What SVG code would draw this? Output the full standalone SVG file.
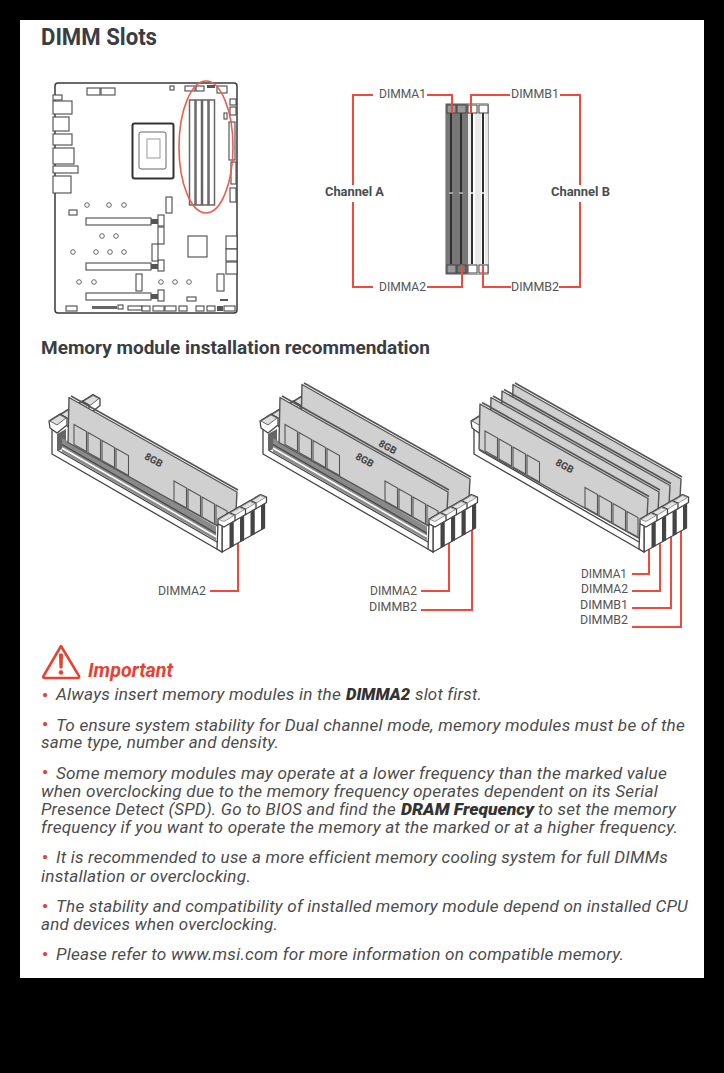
<svg xmlns="http://www.w3.org/2000/svg" width="724" height="1073" viewBox="0 0 724 1073">
<style>
text{font-family:"Roboto","Liberation Sans",sans-serif}
.h{font-weight:700;fill:#3a3d42}
.l{font-size:12.5px;fill:#555}
.ch{font-size:12.5px;font-weight:700;fill:#4a4d52}
.b{font-size:16px;font-style:italic;fill:#4c4c4c;letter-spacing:.2px}
.bb{font-size:16px;font-style:italic;font-weight:900;fill:#333}
.dot{font-size:17px;fill:#e8412f;text-anchor:middle;font-weight:700}
.logo{font-size:10px;font-weight:700;fill:#444;text-anchor:middle}
.c{fill:#fff;stroke:#4a4a4a;stroke-width:1.1}
.s{fill:#fff;stroke:#666;stroke-width:1}
.r{fill:none;stroke:#ee4b3e;stroke-width:2}
.ps{fill:#fff;stroke:#444;stroke-width:1.3;stroke-linejoin:round}
.pt{fill:#d0d0d0;stroke:#555;stroke-width:1.4;stroke-linejoin:round}
.ct{fill:#d0d0d0;stroke:#555;stroke-width:1.1}
</style>
<defs>
<g id="base">
<polygon class="ps" points="52,428 85,409 222,526 222,552 52,454"/>
<polygon points="57,434 66,429 66,448 57,451" fill="#666"/>
<line x1="58" y1="450.5" x2="217" y2="542" stroke="#444" stroke-width="1.3"/>
</g>
<g id="channel">
<polygon points="62,452 216,540.5 216,526.5 62,438" fill="#8a8a8a"/>
<line x1="62" y1="448" x2="216" y2="536.7" stroke="#fff" stroke-width="1.6"/>
<line x1="62" y1="444.5" x2="216" y2="533.2" stroke="#444" stroke-width="1.2"/>
</g>
<g id="lclip">
<polygon class="ps" points="49,421 60,414 67,418 67,425 57,433 50,428"/>
<polygon points="50,421 60,415 66,418 57,425" fill="#ddd" stroke="#444" stroke-width=".8"/>
</g>
<g id="rcol">
<polygon class="ps" points="222,552 233,546 233,520 222,526"/>
<polygon points="229.5,548 233,546 233,522 229.5,524" fill="#444"/>
<polygon class="ps" points="218,519 229,512.5 235,515 235,520.5 224,527 218,524"/>
<polygon points="219,519.500 229,513.500 234,515.500 224,521.500" fill="#e4e4e4" stroke="#555" stroke-width=".6"/>
<polygon class="ps" points="218,524 222,526 222,552 217,549"/>
</g>
<g id="plate">
<polygon class="pt" points="58,404 226,498.500 225,518 218,539 57,449"/>
<line x1="60" y1="402.500" x2="227" y2="496.500" stroke="#555" stroke-width="1.600"/>
</g>
<g id="chips">
<polygon class="ct" points="63,431 75.500,438 75.500,458 63,451"/>
<polygon class="ct" points="77,439 89.500,446 89.500,466 77,459"/>
<polygon class="ct" points="91,447 103.500,454 103.500,474 91,467"/>
<polygon class="ct" points="105,455 117.500,462 117.500,482 105,475"/>
<polygon class="ct" points="163,487.500 175.500,494.500 175.500,514.500 163,507.500"/>
<polygon class="ct" points="177,495.500 189.500,502.500 189.500,522.500 177,515.500"/>
<polygon class="ct" points="191,503.500 203.500,510.500 203.500,530.500 191,523.500"/>
<polygon class="ct" points="205,511.500 216,517.500 216,537 205,531"/>
</g>
</defs>

<rect width="724" height="1073" fill="#000"/>
<rect x="20" y="20" width="684" height="958" fill="#fff"/>

<g id="heading-dimm"><text class="h" x="41" y="45" font-size="23" textLength="116" lengthAdjust="spacingAndGlyphs">DIMM Slots</text></g>

<g id="motherboard">
<rect x="55" y="83" width="182" height="230" rx="3" fill="#fff" stroke="#3a3a3a" stroke-width="1.500"/>
<rect class="c" x="87" y="88" width="13" height="7"/><rect class="c" x="101" y="88" width="14" height="7"/>
<rect class="c" x="170" y="86" width="4" height="4"/><rect class="c" x="185" y="86" width="10" height="5"/><rect class="c" x="196" y="86" width="8" height="5"/>
<rect x="207" y="85" width="8" height="3" fill="#555"/><rect class="c" x="217" y="86" width="10" height="7"/>
<rect class="c" x="53" y="95" width="9" height="5"/><rect class="c" x="53" y="101" width="19" height="13"/><rect class="c" x="53" y="117" width="16" height="14"/>
<rect class="c" x="53" y="134" width="19" height="11"/><rect class="c" x="53" y="148" width="21" height="16"/><rect class="c" x="53" y="166" width="25" height="7"/><rect class="c" x="53" y="176" width="18" height="17"/>
<rect class="c" x="230" y="99" width="6" height="6"/><rect class="c" x="230" y="107" width="6" height="8"/><rect class="c" x="224" y="113" width="3" height="6"/>
<rect class="c" x="229" y="122" width="6" height="38"/><rect class="c" x="231" y="162" width="5" height="22"/><rect class="c" x="230" y="188" width="6" height="14"/>
<rect x="132.500" y="123.500" width="41" height="55" rx="2" fill="#fff" stroke="#333" stroke-width="2"/>
<rect x="139" y="132" width="27" height="37" rx="2" fill="#fff" stroke="#666" stroke-width="1"/>
<rect x="147" y="139" width="13" height="19" fill="#fff" stroke="#aaa" stroke-width="1.200"/>
<rect class="s" x="189.500" y="100" width="5.500" height="105" style="stroke-width:1.500"/><rect class="s" x="196" y="100" width="5.500" height="105" style="stroke-width:1.500"/><rect class="s" x="202.500" y="100" width="5.500" height="105" style="stroke-width:1.500"/><rect class="s" x="209" y="100" width="5.500" height="105" style="stroke-width:1.500"/>
<g fill="#fff" stroke="#666" stroke-width="1">
<circle cx="87" cy="205" r="2.300"/><circle cx="109" cy="205" r="2.300"/><circle cx="124" cy="205" r="2.300"/><circle cx="102" cy="236" r="2.300"/><circle cx="116" cy="236" r="2.300"/>
<circle cx="73" cy="252" r="2.300"/><circle cx="96" cy="252" r="2.300"/><circle cx="110" cy="252" r="2.300"/><circle cx="124" cy="252" r="2.300"/>
<circle cx="79" cy="282" r="2.300"/><circle cx="94" cy="282" r="2.300"/><circle cx="161" cy="282" r="2.300"/><circle cx="175" cy="282" r="2.300"/><circle cx="189" cy="282" r="2.300"/>
</g>
<rect class="c" x="69" y="210" width="8" height="5"/><rect class="c" x="166" y="197" width="6" height="16"/>
<rect class="c" x="86" y="218" width="65" height="7"/><rect class="c" x="86" y="263" width="65" height="7"/><rect class="c" x="86" y="293" width="65" height="7"/>
<rect class="c" x="158" y="215" width="6" height="11"/><rect class="c" x="158" y="260" width="6" height="11"/><rect class="c" x="158" y="290" width="6" height="11"/>
<rect x="151" y="219" width="7" height="5" fill="#555"/><rect x="151" y="264" width="7" height="5" fill="#555"/><rect x="151" y="294" width="7" height="5" fill="#555"/>
<rect class="c" x="158" y="227" width="6" height="17"/><rect class="c" x="152" y="244" width="6" height="17"/><rect class="c" x="136" y="274" width="6" height="17"/><rect class="c" x="217" y="274" width="7" height="17"/>
<rect class="c" x="188" y="236" width="19" height="21"/>
<rect class="c" x="226" y="236" width="11" height="13"/><rect class="c" x="226" y="249" width="11" height="12"/><rect class="c" x="226" y="262" width="11" height="12"/>
<rect class="c" x="66" y="306" width="11" height="5"/><rect x="92" y="306" width="25" height="3" fill="#666"/><rect class="c" x="118" y="305" width="5" height="4"/>
<rect class="c" x="128" y="306" width="14" height="4"/><rect class="c" x="142" y="306" width="8" height="5"/><rect class="c" x="153" y="306" width="11" height="5"/><rect class="c" x="165" y="306" width="11" height="5"/>
<rect class="c" x="179" y="306" width="8" height="5"/><rect class="c" x="196" y="306" width="8" height="5"/><rect class="c" x="207" y="306" width="8" height="5"/><rect x="217" y="306" width="6" height="5" fill="#555"/><rect class="c" x="224" y="306" width="11" height="5"/>
<rect class="c" x="187" y="297" width="9" height="4"/><rect x="220" y="299" width="8" height="2" fill="#555"/>
<ellipse cx="206" cy="147" rx="27" ry="66" fill="none" stroke="#e8604f" stroke-width="1.600"/>
</g>

<g id="slots-top">
<rect x="446" y="104" width="42" height="170" fill="#fff" stroke="#555" stroke-width="1"/>
<rect x="446" y="104" width="22" height="170" fill="#777"/>
<rect x="468" y="104" width="20" height="170" fill="#e8e8e8"/>
<rect x="471" y="113" width="4" height="151" fill="#fff"/><rect x="481" y="113" width="4" height="151" fill="#fff"/>
<g stroke="#2f2f2f" stroke-width="2"><line x1="451" y1="113" x2="451" y2="264"/><line x1="461" y1="113" x2="461" y2="264"/><line x1="472" y1="113" x2="472" y2="264"/><line x1="483" y1="113" x2="483" y2="264"/></g>
<g stroke="#bbb" stroke-width="1.500"><line x1="449" y1="193" x2="453" y2="193"/><line x1="459" y1="193" x2="463" y2="193"/></g>
<g stroke="#fff" stroke-width="1.500"><line x1="470" y1="193" x2="474" y2="193"/><line x1="481" y1="193" x2="485" y2="193"/></g>
<rect x="457" y="105" width="9" height="8" fill="#999" stroke="#444"/><rect x="468" y="105" width="9" height="8" fill="#fff" stroke="#444"/><rect x="479" y="105" width="9" height="8" fill="#fff" stroke="#444"/><rect x="447" y="105" width="9" height="8" fill="#999" stroke="#444"/>
<rect x="447" y="265" width="9" height="8" fill="#999" stroke="#444"/><rect x="457" y="265" width="9" height="8" fill="#777" stroke="#444"/><rect x="468" y="265" width="9" height="8" fill="#fff" stroke="#444"/><rect x="479" y="265" width="9" height="8" fill="#fff" stroke="#444"/>
</g>

<g id="connectors">
<path class="r" d="M373 95H353V185M353 202V287H373M427 95H452V113M510 95H471V113M560 95H580V185M580 202V287H559M511 287H483V265M427 287H462V265"/>
<path class="r" d="M238 534V591H210M449 534V591H421M472 520V610H421M649 542V574H632M660 534V591H632M671 530V608H632M681 520V627H632"/>
</g>

<g id="labels-top">
<text class="l" x="379" y="98" textLength="47" lengthAdjust="spacingAndGlyphs">DIMMA1</text>
<text class="l" x="379" y="291" textLength="47" lengthAdjust="spacingAndGlyphs">DIMMA2</text>
<text class="l" x="511" y="98" textLength="48" lengthAdjust="spacingAndGlyphs">DIMMB1</text>
<text class="l" x="511" y="291" textLength="48" lengthAdjust="spacingAndGlyphs">DIMMB2</text>
<text class="ch" x="325" y="196" textLength="59" lengthAdjust="spacingAndGlyphs">Channel A</text>
<text class="ch" x="551" y="196" textLength="59" lengthAdjust="spacingAndGlyphs">Channel B</text>
</g>

<g id="heading-install"><text class="h" x="41" y="354" font-size="18" textLength="389" lengthAdjust="spacingAndGlyphs">Memory module installation recommendation</text></g>

<g id="socket-1">
<use href="#base"/><use href="#channel"/>
<use href="#lclip" transform="translate(33,-19.500)"/><use href="#rcol" transform="translate(31.500,-18)"/>
<use href="#lclip" transform="translate(22,-13)"/><use href="#rcol" transform="translate(21,-12)"/>
<use href="#lclip" transform="translate(11,-6.500)"/>
<use href="#plate" transform="translate(11,-6.500)"/><use href="#chips" transform="translate(11,-6.500)"/>
<use href="#rcol" transform="translate(10.500,-6)"/>
<use href="#lclip"/><use href="#rcol"/>
<text class="logo" transform="translate(152,463) rotate(29)">8GB</text>
<text class="l" x="158" y="595" textLength="48" lengthAdjust="spacingAndGlyphs">DIMMA2</text>
</g>

<g id="socket-2">
<g transform="translate(211,0)">
<use href="#base"/><use href="#channel"/>
<use href="#lclip" transform="translate(33,-19.500)"/>
<use href="#plate" transform="translate(33,-19.500)"/><use href="#rcol" transform="translate(31.500,-18)"/>
<use href="#lclip" transform="translate(22,-13)"/><use href="#rcol" transform="translate(21,-12)"/>
<use href="#lclip" transform="translate(11,-6.500)"/>
<use href="#plate" transform="translate(11,-6.500)"/><use href="#chips" transform="translate(11,-6.500)"/>
<use href="#rcol" transform="translate(10.500,-6)"/>
<use href="#lclip"/><use href="#rcol"/>
</g>
<text class="logo" transform="translate(386,450) rotate(29)">8GB</text>
<text class="logo" transform="translate(363,463) rotate(29)">8GB</text>
<text class="l" x="370" y="595" textLength="47" lengthAdjust="spacingAndGlyphs">DIMMA2</text>
<text class="l" x="369" y="611" textLength="48" lengthAdjust="spacingAndGlyphs">DIMMB2</text>
</g>

<g id="socket-3">
<g transform="translate(422,0)">
<use href="#base"/>
<use href="#lclip" transform="translate(33,-19.500)"/>
<use href="#plate" transform="translate(33,-19.500)"/><use href="#rcol" transform="translate(31.500,-18)"/>
<use href="#lclip" transform="translate(22,-13)"/>
<use href="#plate" transform="translate(22,-13)"/><use href="#rcol" transform="translate(21,-12)"/>
<use href="#lclip" transform="translate(11,-6.500)"/>
<use href="#plate" transform="translate(11,-6.500)"/><use href="#rcol" transform="translate(10.500,-6)"/>
<use href="#lclip"/>
<use href="#plate"/><use href="#chips"/><use href="#rcol"/>
</g>
<text class="logo" transform="translate(563,469) rotate(29)">8GB</text>
<text class="l" x="581" y="578" textLength="46" lengthAdjust="spacingAndGlyphs">DIMMA1</text>
<text class="l" x="581" y="593" textLength="47" lengthAdjust="spacingAndGlyphs">DIMMA2</text>
<text class="l" x="580" y="609" textLength="48" lengthAdjust="spacingAndGlyphs">DIMMB1</text>
<text class="l" x="580" y="624" textLength="48" lengthAdjust="spacingAndGlyphs">DIMMB2</text>
</g>

<g id="important">
<path d="M61 646 L79 676 Q80 678 77.500 678 H45 Q42.500 678 43.500 676 Z" fill="#fff" stroke="#e8412f" stroke-width="2.500" stroke-linejoin="round"/>
<path d="M59.500 654 H62.500 L62 668 H60 Z" fill="#e8412f" stroke="#e8412f"/>
<circle cx="61" cy="672.500" r="2.300" fill="#e8412f"/>
<text x="88" y="677" font-size="20" font-weight="700" font-style="italic" fill="#e8412f" textLength="85" lengthAdjust="spacingAndGlyphs">Important</text>
</g>

<g id="notes">
<text class="dot" x="45" y="701">•</text>
<text class="b" x="56" y="700" textLength="285" lengthAdjust="spacingAndGlyphs">Always insert memory modules in the</text>
<text class="bb" x="346" y="700" textLength="64" lengthAdjust="spacingAndGlyphs">DIMMA2</text>
<text class="b" x="415" y="700" textLength="67" lengthAdjust="spacingAndGlyphs">slot first.</text>
<text class="dot" x="45" y="730">•</text>
<text class="b" x="56" y="731" textLength="629" lengthAdjust="spacingAndGlyphs">To ensure system stability for Dual channel mode, memory modules must be of the</text>
<text class="b" x="41" y="748" textLength="238" lengthAdjust="spacingAndGlyphs">same type, number and density.</text>
<text class="dot" x="45" y="778">•</text>
<text class="b" x="56" y="779" textLength="611" lengthAdjust="spacingAndGlyphs">Some memory modules may operate at a lower frequency than the marked value</text>
<text class="b" x="41" y="797" textLength="617" lengthAdjust="spacingAndGlyphs">when overclocking due to the memory frequency operates dependent on its Serial</text>
<text class="b" x="41" y="815" textLength="355" lengthAdjust="spacingAndGlyphs">Presence Detect (SPD). Go to BIOS and find the</text>
<text class="bb" x="401" y="815" textLength="133" lengthAdjust="spacingAndGlyphs">DRAM Frequency</text>
<text class="b" x="538" y="815" textLength="138" lengthAdjust="spacingAndGlyphs">to set the memory</text>
<text class="b" x="41" y="833" textLength="637" lengthAdjust="spacingAndGlyphs">frequency if you want to operate the memory at the marked or at a higher frequency.</text>
<text class="dot" x="45" y="863">•</text>
<text class="b" x="56" y="863" textLength="612" lengthAdjust="spacingAndGlyphs">It is recommended to use a more efficient memory cooling system for full DIMMs</text>
<text class="b" x="41" y="882" textLength="210" lengthAdjust="spacingAndGlyphs">installation or overclocking.</text>
<text class="dot" x="45" y="912">•</text>
<text class="b" x="56" y="912" textLength="632" lengthAdjust="spacingAndGlyphs">The stability and compatibility of installed memory module depend on installed CPU</text>
<text class="b" x="41" y="930" textLength="237" lengthAdjust="spacingAndGlyphs">and devices when overclocking.</text>
<text class="dot" x="45" y="960">•</text>
<text class="b" x="56" y="960" textLength="568" lengthAdjust="spacingAndGlyphs">Please refer to www.msi.com for more information on compatible memory.</text>
</g>
</svg>
